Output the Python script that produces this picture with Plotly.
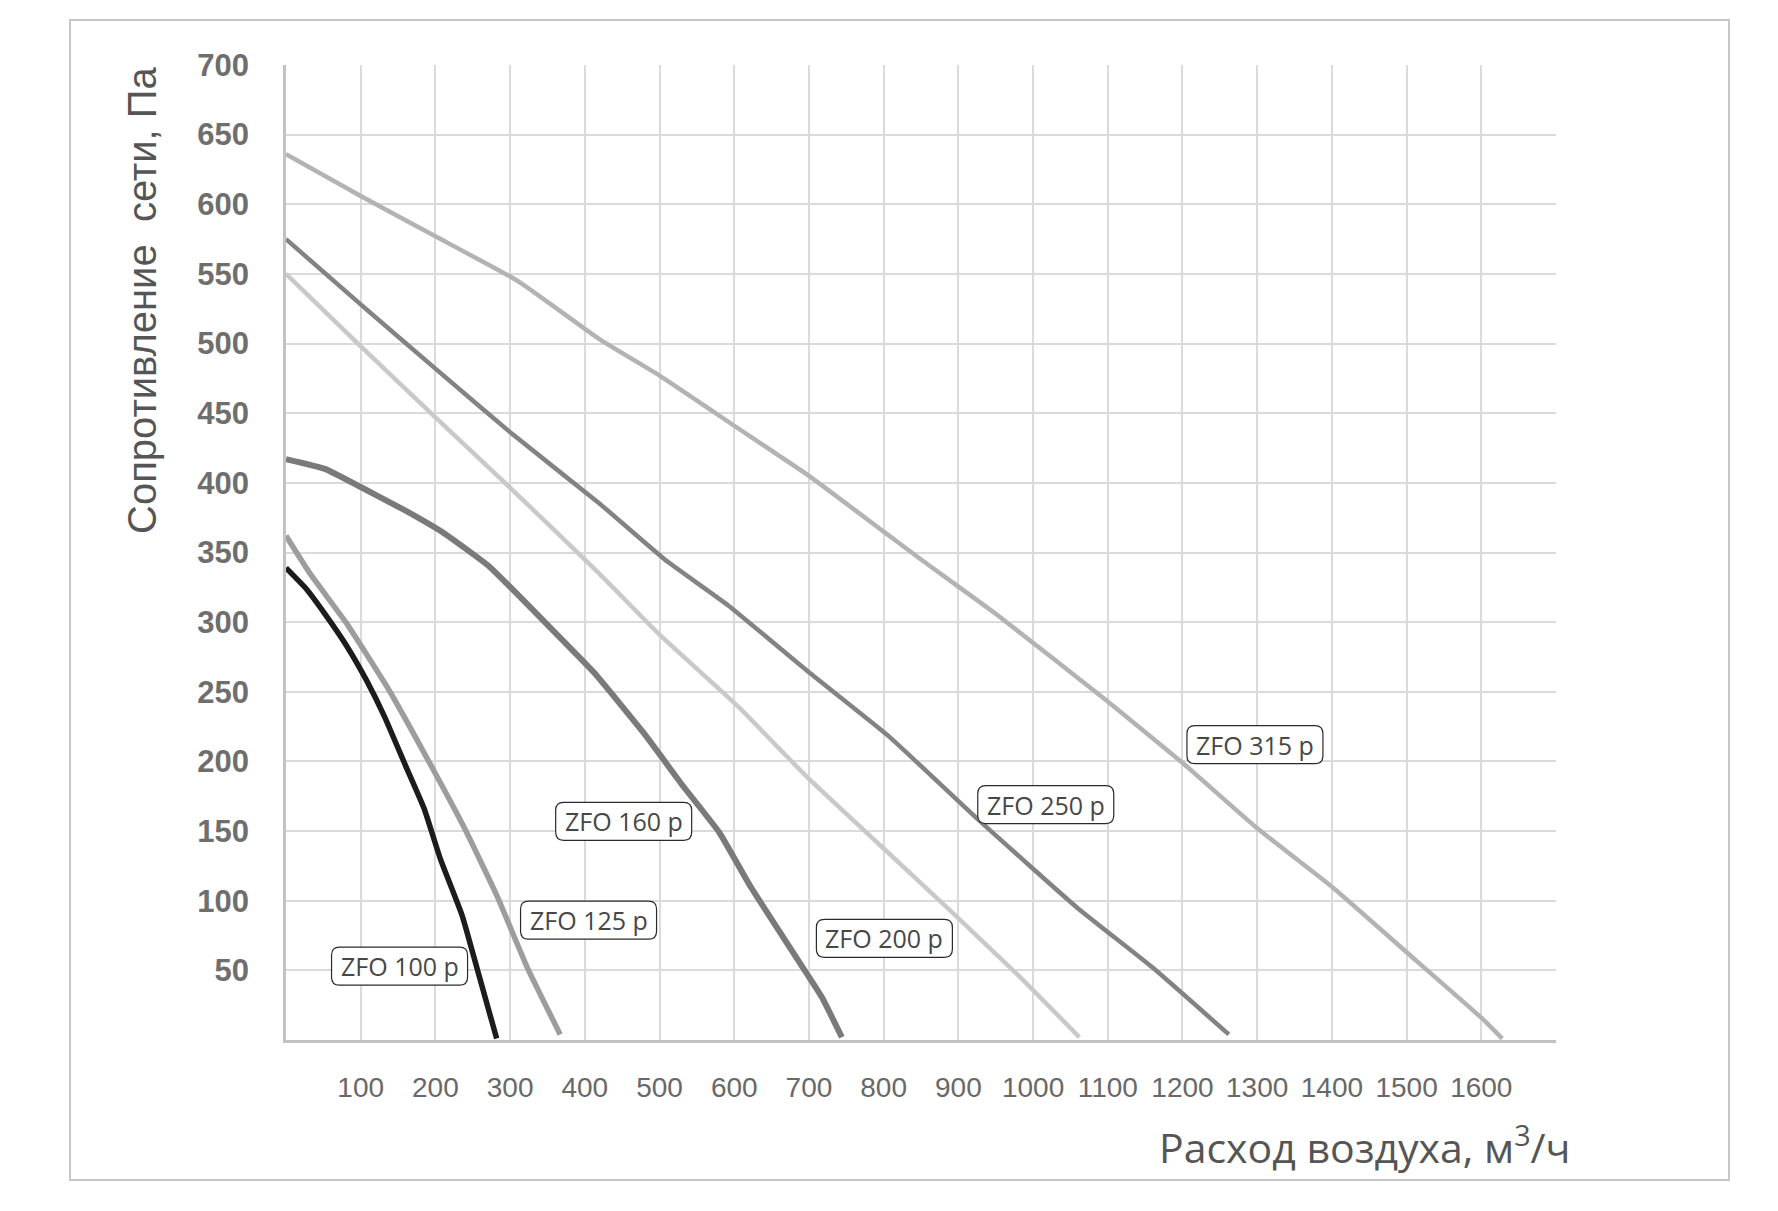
import plotly.graph_objects as go

# ---------------- data ----------------
x_tick_vals = list(range(100, 1700, 100))
x_tick_labels = [str(v) for v in x_tick_vals]
y_tick_vals = list(range(50, 701, 50))
y_tick_labels = [str(v) for v in y_tick_vals]

names = ["ZFO 100 p", "ZFO 125 p", "ZFO 160 p", "ZFO 200 p", "ZFO 250 p", "ZFO 315 p"]

x_100 = [0, 27, 52, 80, 108, 132, 160, 185, 206, 236, 257, 282]
y_100 = [339, 324, 306, 284, 258, 232, 197, 166, 131, 89, 49, 1]

x_125 = [0, 32, 80, 137, 185, 239, 282, 323, 367]
y_125 = [362, 335, 300, 252, 206, 152, 104, 52, 4]

x_160 = [0, 52, 100, 160, 211, 272, 352, 412, 478, 532, 580, 622, 681, 717, 744]
y_160 = [417, 410, 397, 380, 364, 340, 297, 264, 221, 182, 149, 110, 61, 31, 2]

x_200 = [0, 98, 200, 303, 419, 500, 604, 699, 795, 891, 981, 1062]
y_200 = [550, 499, 447, 395, 335, 291, 240, 188, 140, 92, 46, 2]

x_250 = [0, 98, 200, 303, 420, 507, 592, 700, 807, 927, 1059, 1160, 1262]
y_250 = [575, 529, 482, 435, 385, 345, 312, 264, 218, 158, 95, 52, 4]

x_315 = [0, 100, 200, 310, 420, 500, 600, 700, 800, 850, 950, 1100, 1200, 1300, 1400, 1500, 1600, 1628]
y_315 = [636, 606, 577, 545, 503, 477, 441, 405, 365, 345, 306, 243, 199, 152, 110, 63, 16, 1]

label_x = [152, 405, 452, 801, 1017, 1297]
label_y = [53, 86, 157, 73, 169, 212]

# ---------------- styles ----------------
series = [(x_100, y_100), (x_125, y_125), (x_160, y_160),
          (x_200, y_200), (x_250, y_250), (x_315, y_315)]
colors = ["#1c1c1c", "#9d9d9d", "#7a7a7a", "#c9c9c9", "#838383", "#b3b3b3"]
widths = [5.5, 5.5, 6, 4.5, 4.5, 4.5]

fig = go.Figure()
for (xs, ys), name, c, w in zip(series, names, colors, widths):
    fig.add_trace(go.Scatter(x=xs, y=ys, mode="lines", name=name,
                             line=dict(color=c, width=w, shape="spline", smoothing=0.4),
                             hoverinfo="skip"))

# rounded label boxes
W, H, R = 68, 19, 8
box_path = (f"M {-W+R},{-H} L {W-R},{-H} Q {W},{-H} {W},{-H+R} L {W},{H-R} "
            f"Q {W},{H} {W-R},{H} L {-W+R},{H} Q {-W},{H} {-W},{H-R} "
            f"L {-W},{-H+R} Q {-W},{-H} {-W+R},{-H} Z")
for lx, ly, name in zip(label_x, label_y, names):
    fig.add_shape(type="path", xref="x", yref="y", xsizemode="pixel", ysizemode="pixel",
                  xanchor=lx, yanchor=ly, path=box_path,
                  fillcolor="white", line=dict(color="#2a2a2a", width=1.2), layer="above")
    fig.add_annotation(x=lx, y=ly, xref="x", yref="y", text=name, showarrow=False,
                       font=dict(family="Open Sans", size=25, color="#474747"),
                       xanchor="center", yanchor="middle")

# outer frame
fig.add_shape(type="rect", xref="paper", yref="paper",
              x0=-0.1701, x1=1.1362, y0=-0.1436, y1=1.0462,
              line=dict(color="#c6c6c6", width=2), fillcolor="rgba(0,0,0,0)", layer="below")

# axis titles
fig.add_annotation(xref="paper", yref="paper", x=-0.1134, y=0.759,
                   text="Сопротивление\u00a0 сети, Па", textangle=-90, showarrow=False,
                   font=dict(family="Liberation Sans", size=40, color="#555555"),
                   xanchor="center", yanchor="middle")
fig.add_annotation(xref="paper", yref="paper", x=1.0125, y=-0.108,
                   text="Расход воздуха, м<sup>3</sup>/ч", showarrow=False,
                   font=dict(family="Open Sans", size=41, color="#555555"),
                   xanchor="right", yanchor="middle")

grid = dict(showgrid=True, gridcolor="#dadada", gridwidth=2)
fig.update_xaxes(range=[0, 1700], tickmode="array", tickvals=x_tick_vals, ticktext=x_tick_labels,
                 zeroline=False, showline=True, linecolor="#c2c2c2", linewidth=2.5,
                 minor=dict(tick0=0, dtick=100, ticks="", **grid),
                 tickfont=dict(family="Liberation Sans", size=28, color="#686868"),
                 ticks="", ticklabelstandoff=21, **grid)
fig.update_yaxes(range=[0, 700], tickmode="array", tickvals=y_tick_vals, ticktext=y_tick_labels,
                 zeroline=False, showline=True, linecolor="#c2c2c2", linewidth=2.5,
                 minor=dict(tick0=0, dtick=50, ticks="", **grid),
                 tickfont=dict(family="Liberation Sans", size=31, color="#6e6e6e", weight="bold"),
                 ticks="", ticklabelstandoff=28, **grid)

fig.update_layout(width=1778, height=1211, autosize=False,
                  margin=dict(l=286, r=222, t=65, b=171),
                  plot_bgcolor="white", paper_bgcolor="white",
                  showlegend=False)

fig.write_html("out.html")
